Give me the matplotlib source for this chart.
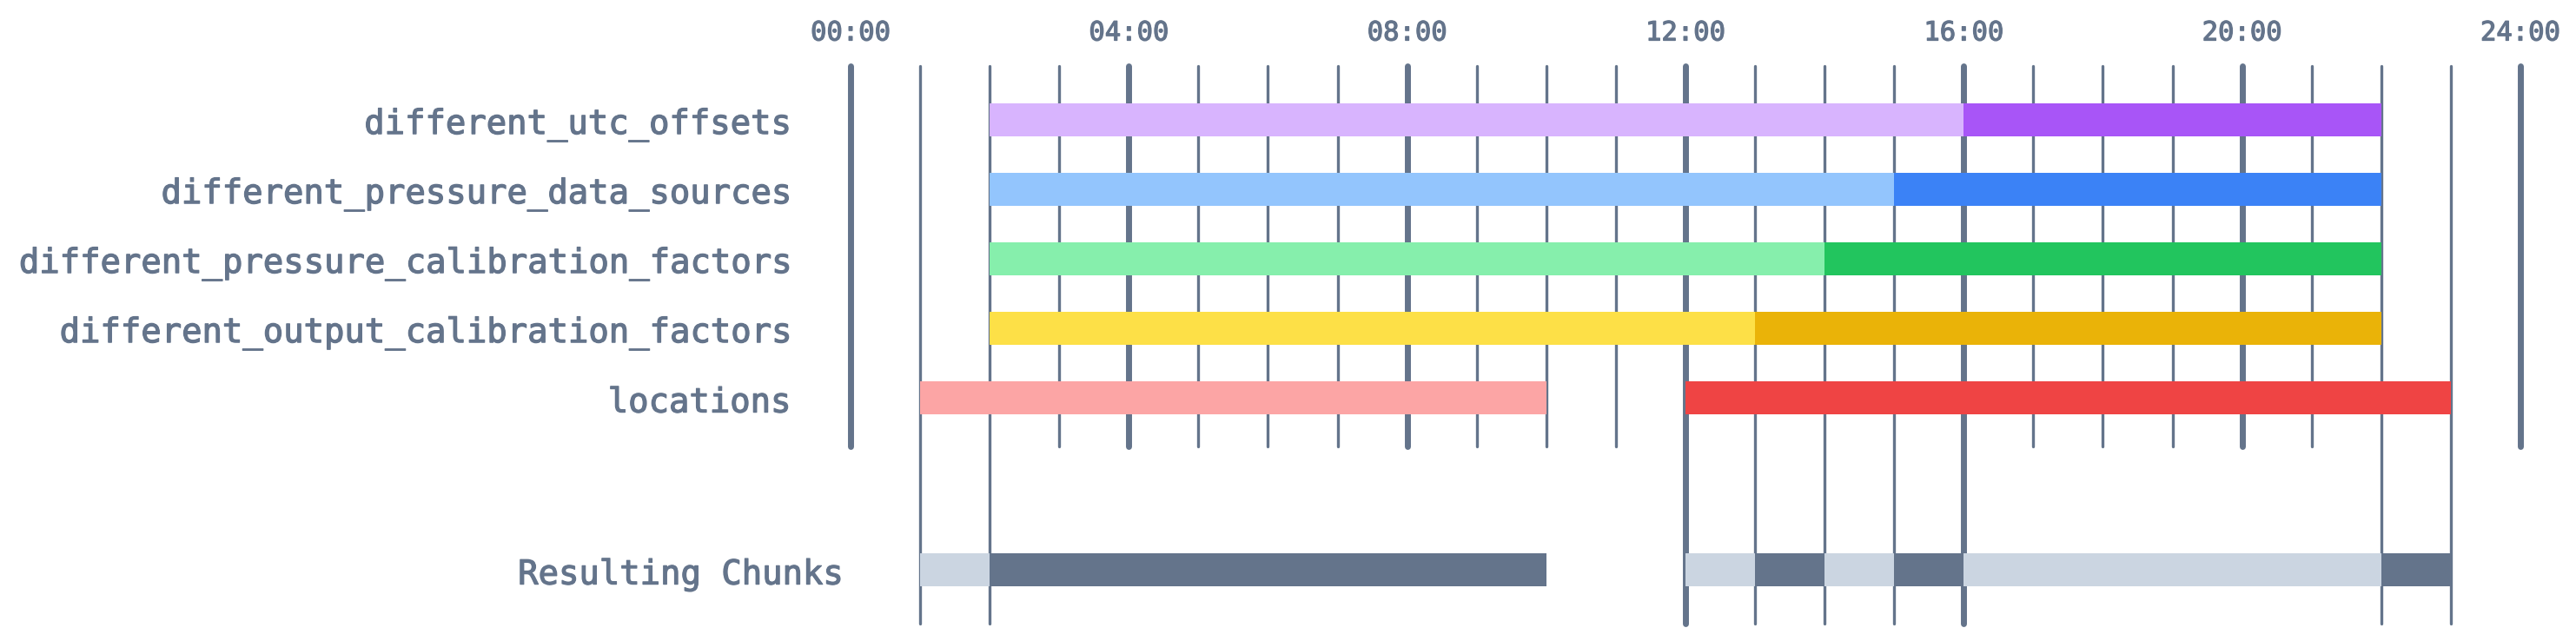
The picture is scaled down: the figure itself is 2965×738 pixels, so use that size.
import matplotlib
matplotlib.use("Agg")
import matplotlib.pyplot as plt
import matplotlib.patheffects as pe

# ---- data ----
rows = ["different_utc_offsets", "different_pressure_data_sources",
        "different_pressure_calibration_factors", "different_output_calibration_factors",
        "locations"]
# segments per row: (start_hour, end_hour, shade) shade 0 = light, 1 = dark
segments = [
    [(2, 16, 0), (16, 22, 1)],
    [(2, 15, 0), (15, 22, 1)],
    [(2, 14, 0), (14, 22, 1)],
    [(2, 13, 0), (13, 22, 1)],
    [(1, 10, 0), (12, 23, 1)],
]
row_colors = [
    ("#d8b4fe", "#a855f7"),
    ("#93c5fd", "#3b82f6"),
    ("#86efac", "#22c55e"),
    ("#fde047", "#eab308"),
    ("#fca5a5", "#ef4444"),
]
chunk_label = "Resulting Chunks"
chunks = [(1, 2, 0), (2, 10, 1), (12, 13, 0), (13, 14, 1), (14, 15, 0),
          (15, 16, 1), (16, 22, 0), (22, 23, 1)]
chunk_boundaries = [1, 2, 12, 13, 14, 15, 16, 22, 23]
major_hours = [0, 4, 8, 12, 16, 20, 24]
tick_labels = ["00:00", "04:00", "08:00", "12:00", "16:00", "20:00", "24:00"]
minor_hours = list(range(1, 24))

SLATE = "#64748b"
CHUNK_LIGHT = "#cbd5e1"
FONT = "DejaVu Sans Mono"
thicken = [pe.withStroke(linewidth=0.9, foreground=SLATE)]

fig = plt.figure(figsize=(29.65, 7.38), dpi=100)
ax = fig.add_axes([0, 0, 1, 1])
px_per_hr = 80.08
x0 = 979
ax.set_xlim(-x0 / px_per_hr, (2965 - x0) / px_per_hr)
row0, row_h = 138, 80
ax.set_ylim((738 - row0) / row_h, (0 - row0) / row_h)
ax.axis("off")

chunk_y = 6.475
top_y = -0.775
short_bottom = 4.7
long_bottom = 7.25
label_dy = 0.07

# grid lines
for h in minor_hours:
    if h in major_hours:
        continue
    bottom = long_bottom if h in chunk_boundaries else short_bottom
    ax.plot([h, h], [top_y, bottom], color=SLATE, lw=2.4, solid_capstyle="round", zorder=1)
for h in major_hours:
    bottom = long_bottom if h in chunk_boundaries else short_bottom
    ax.plot([h, h], [top_y, bottom], color=SLATE, lw=5, solid_capstyle="round", zorder=1)

# tick labels
for h, lab in zip(major_hours, tick_labels):
    ax.text(h, -1.25, lab, ha="center", va="center", fontsize=22, color=SLATE,
            family=FONT, path_effects=thicken)

bar_h = 0.48
for i, (name, segs, cols) in enumerate(zip(rows, segments, row_colors)):
    for s, e, shade in segs:
        ax.barh(i, e - s, left=s, height=bar_h, color=cols[shade], zorder=2, linewidth=0)
    ax.text(-0.86, i + label_dy, name, ha="right", va="center", fontsize=28, color=SLATE,
            family=FONT, path_effects=thicken)

for s, e, shade in chunks:
    ax.barh(chunk_y, e - s, left=s, height=bar_h,
            color=SLATE if shade else CHUNK_LIGHT, zorder=2, linewidth=0)
ax.text(-0.11, chunk_y + label_dy, chunk_label, ha="right", va="center", fontsize=28,
        color=SLATE, family=FONT, path_effects=thicken)

fig.savefig("out.png", dpi=100, facecolor="white")
